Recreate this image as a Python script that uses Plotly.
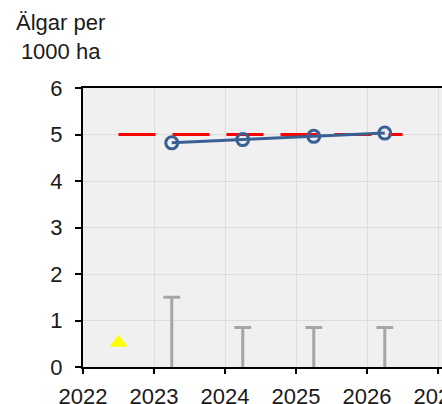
import plotly.graph_objects as go

years = [2023.25, 2024.25, 2025.25, 2026.25]
density = [4.82, 4.89, 4.96, 5.03]
upper_err = [1.5, 0.85, 0.85, 0.85]
target_x = [2022.5, 2026.5]
target_y = [5.0, 5.0]
tri_x = [2022.5]
tri_y = [0.52]
xticks = [2022, 2023, 2024, 2025, 2026, 2027]
yticks = [0, 1, 2, 3, 4, 5, 6]

fig = go.Figure()

# grey stems
sx, sy = [], []
for x, e in zip(years, upper_err):
    sx += [x, x, None]
    sy += [0, e, None]
fig.add_trace(go.Scatter(x=sx, y=sy, mode="lines",
                         line=dict(color="#a6a6a6", width=3), hoverinfo="skip"))
fig.add_trace(go.Scatter(x=years, y=upper_err, mode="markers",
                         marker=dict(symbol="line-ew", size=12,
                                     line=dict(color="#a6a6a6", width=3)),
                         hoverinfo="skip"))

# red dashed target
fig.add_trace(go.Scatter(x=target_x, y=target_y, mode="lines",
                         line=dict(color="#ff0000", width=3, dash="37px,17px")))

# blue series
fig.add_trace(go.Scatter(x=years, y=density, mode="lines+markers",
                         line=dict(color="#3a6093", width=3),
                         marker=dict(symbol="circle-open", size=12,
                                     line=dict(color="#3a6093", width=3))))

# yellow triangle
fig.add_trace(go.Scatter(x=tri_x, y=tri_y, mode="markers",
                         marker=dict(symbol="triangle-up", size=16, color="#ffff00")))

fig.update_layout(
    width=442, height=404,
    margin=dict(l=83, r=0, t=88, b=37, autoexpand=False),
    paper_bgcolor="white", plot_bgcolor="#f0f0f0",
    showlegend=False,
    font=dict(family="Liberation Sans, Arial, sans-serif", size=22, color="#1a1a1a"),
    annotations=[dict(text="Älgar per<br>1000 ha", xref="paper", yref="paper",
                      x=-0.192, y=1.285, xanchor="left", yanchor="top",
                      showarrow=False, align="center",
                      font=dict(size=22, color="#1a1a1a"))],
)
fig.update_xaxes(range=[2022, 2027.056], tickvals=xticks, ticktext=[str(t) for t in xticks],
                 showgrid=True, gridcolor="#dcdcdc", gridwidth=1,
                 showline=True, linecolor="#000000", linewidth=2, mirror=True,
                 ticks="outside", ticklen=5, tickcolor="#000000", tickwidth=2,
                 ticklabeloverflow="allow", ticklabelstandoff=4,
                 zeroline=False, automargin=False)
fig.update_yaxes(range=[0, 6], tickvals=yticks,
                 showgrid=True, gridcolor="#dcdcdc", gridwidth=1,
                 showline=True, linecolor="#000000", linewidth=2, mirror=True,
                 ticks="outside", ticklen=6, tickcolor="#000000", tickwidth=2,
                 ticklabelstandoff=8,
                 zeroline=False, automargin=False)

fig.write_html("out.html", config={"displayModeBar": False},
               post_script="document.body.style.margin='0';document.body.style.overflow='hidden';")
